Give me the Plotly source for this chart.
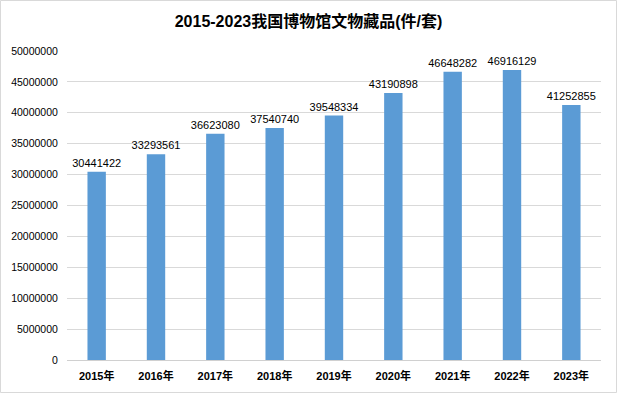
import plotly.graph_objects as go

years = ["2015年", "2016年", "2017年", "2018年", "2019年", "2020年", "2021年", "2022年", "2023年"]
values = [30441422, 33293561, 36623080, 37540740, 39548334, 43190898, 46648282, 46916129, 41252855]
y_ticks = list(range(0, 50000001, 5000000))

W, H = 617, 393
L, R, T, B = 67, 16, 51, 33
pw, ph = W - L - R, H - T - B

fig = go.Figure(go.Bar(
    x=years, y=values,
    marker=dict(color="#5B9BD5", line=dict(width=0)),
    width=0.31,
    text=[str(v) for v in values], textposition="outside",
    constraintext="none",
    textfont=dict(size=11, color="#000000", family="Liberation Sans, Arial"),
    cliponaxis=False,
))

fig.update_layout(
    width=W, height=H,
    margin=dict(l=L, r=R, t=T, b=B),
    paper_bgcolor="white", plot_bgcolor="white",
    title=dict(text="<b>2015-2023我国博物馆文物藏品(件/套)</b>", x=0.5, xanchor="center", y=1 - 21 / H, yanchor="middle",
               font=dict(size=16, color="#000000", family="Liberation Sans, Noto Sans CJK SC")),
    font=dict(family="Liberation Sans, Noto Sans CJK SC", color="#000000"),
    showlegend=False,
)
fig.update_xaxes(
    showgrid=False, showline=True, linecolor="#d0d0d0", linewidth=1,
    ticks="", tickfont=dict(size=11, color="#000000", family="Liberation Sans, Noto Sans CJK SC"),
    tickvals=years, ticktext=["<b>" + y + "</b>" for y in years],
    ticklabelstandoff=6,
    automargin=False,
)
fig.update_yaxes(
    range=[0, 50000000], tickvals=y_ticks, ticktext=[str(v) for v in y_ticks],
    showgrid=True, gridcolor="#d9d9d9", gridwidth=1, zeroline=False, showline=False,
    tickfont=dict(size=10.5, color="#000000"), ticks="outside", ticklen=6, tickcolor="rgba(0,0,0,0)",
    automargin=False,
)
fig.add_shape(type="rect", xref="paper", yref="paper",
              x0=(0.5 - L) / pw, x1=(W - 0.5 - L) / pw,
              y0=-(B - 0.5) / ph, y1=1 + (T - 0.5) / ph,
              line=dict(color="#d9d9d9", width=1), fillcolor="rgba(0,0,0,0)", layer="below")

fig.write_html("out.html", config={"displayModeBar": False},
               post_script="document.body.style.margin='0';document.body.style.overflow='hidden';")
